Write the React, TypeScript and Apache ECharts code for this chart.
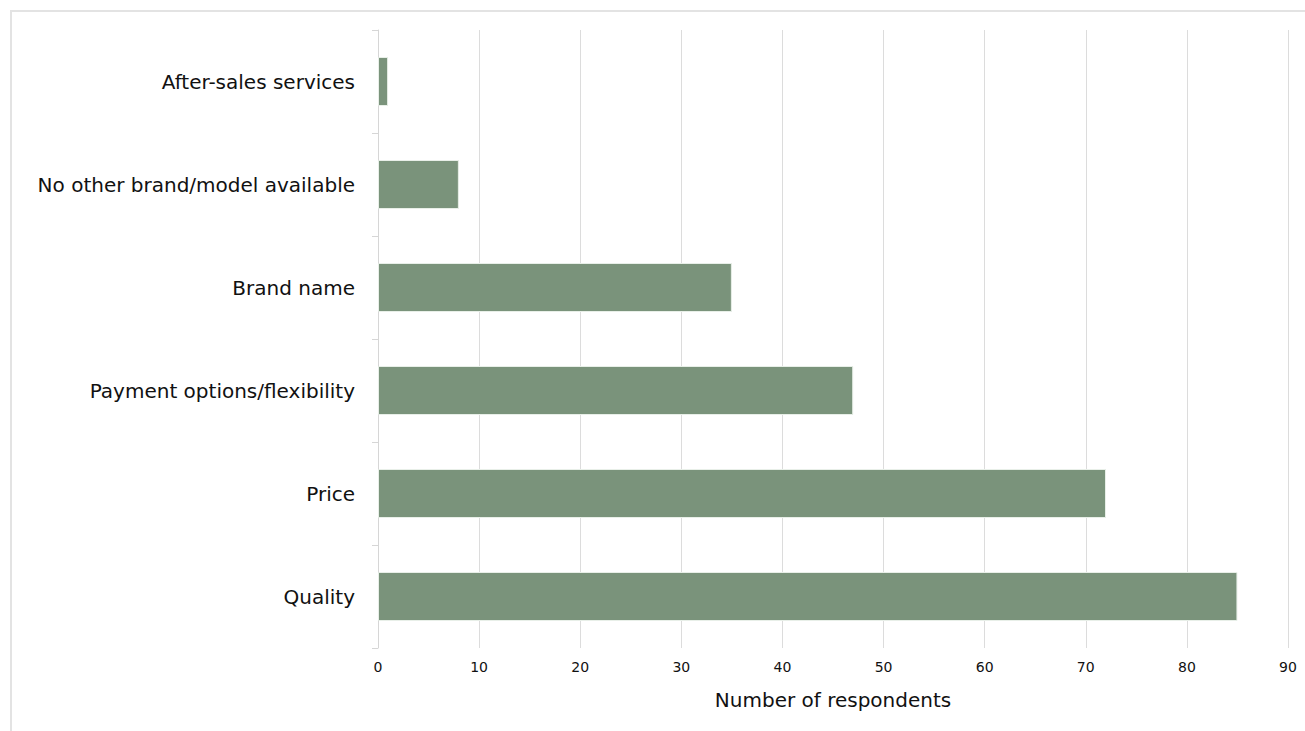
import React, { useEffect, useRef } from "react";
import * as echarts from "echarts";

const categories = [
  "Quality",
  "Price",
  "Payment options/flexibility",
  "Brand name",
  "No other brand/model available",
  "After-sales services",
];
const respondents = [85, 72, 47, 35, 8, 1];
const xTicks = { min: 0, max: 90, interval: 10 };
const axisTitle = "Number of respondents";

const FONT = "'DejaVu Sans', 'Noto Sans', sans-serif";

export default function App() {
  const ref = useRef<HTMLDivElement>(null);
  useEffect(() => {
    if (!ref.current) return;
    const chart = echarts.init(ref.current, null, { renderer: "svg" });
    chart.setOption({
      animation: false,
      graphic: [
        {
          type: "rect",
          shape: { x: 11, y: 11, width: 1400, height: 800 },
          style: { fill: "none", stroke: "#e3e3e3", lineWidth: 2 },
          silent: true,
        },
      ],
      grid: { left: 378, right: 17, top: 30, bottom: 83, containLabel: false },
      xAxis: {
        type: "value",
        min: xTicks.min,
        max: xTicks.max,
        interval: xTicks.interval,
        name: axisTitle,
        nameLocation: "middle",
        nameGap: 42,
        nameTextStyle: { fontFamily: FONT, fontSize: 20, color: "#111" },
        axisLine: { show: false },
        axisTick: { show: false },
        axisLabel: { fontFamily: FONT, fontSize: 14, color: "#111", margin: 12 },
        splitLine: { show: true, lineStyle: { color: "#dcdcdc", width: 1 } },
      },
      yAxis: {
        type: "category",
        data: categories,
        axisLine: { show: true, lineStyle: { color: "#d6d6d6", width: 1 } },
        axisTick: { show: true, length: 6, lineStyle: { color: "#d6d6d6" } },
        axisLabel: { fontFamily: FONT, fontSize: 20, color: "#111", margin: 23 },
      },
      series: [
        {
          type: "bar",
          data: respondents,
          barWidth: 49,
          itemStyle: { color: "#7a937b", borderColor: "#e8efe8", borderWidth: 1 },
        },
      ],
    });
    return () => chart.dispose();
  }, []);
  return (
    <div
      ref={ref}
      style={{ position: "fixed", left: 0, top: 0, width: 1305, height: 731, background: "#fff" }}
    />
  );
}
